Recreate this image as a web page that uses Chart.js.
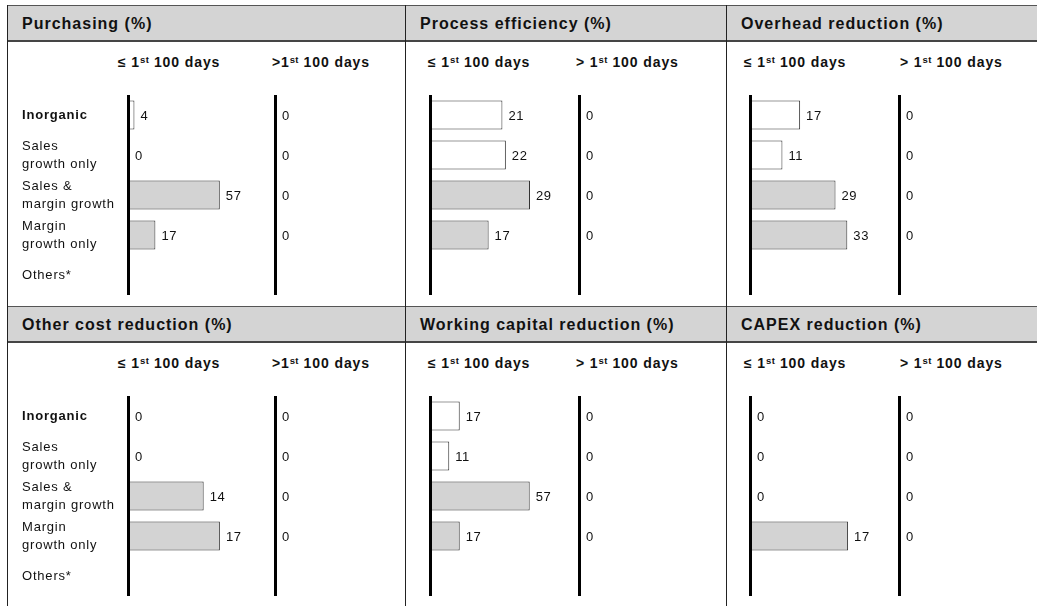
<!DOCTYPE html>
<html>
<head>
<meta charset="utf-8">
<script src="https://cdn.jsdelivr.net/npm/chart.js@4.4.1/dist/chart.umd.min.js"></script>
<style>
  html, body { margin: 0; padding: 0; background: #fff; overflow: hidden; }
  body { width: 1037px; height: 606px; position: relative; font-family: "Liberation Sans", Arial, sans-serif; color: #111; }
  #board { position: absolute; left: 0; top: 0; width: 1037px; height: 606px; }
  #board canvas { position: absolute; }
  .head { position: absolute; left: 7px; width: 1100px; height: 34px; background: #d4d4d4;
          border-top: 1px solid #555; border-bottom: 2px solid #454545; }
  .title { position: absolute; height: 34px; line-height: 34px; font-size: 16px; font-weight: bold; letter-spacing: 1px; white-space: nowrap; }
  .sub { position: absolute; height: 16px; line-height: 16px; font-size: 14px; font-weight: bold; letter-spacing: 0.9px; white-space: nowrap; }
  .sub sup { font-size: 9.5px; line-height: 0; vertical-align: 4px; letter-spacing: 0.3px; }
  .vline { position: absolute; width: 1px; background: #222; top: 5px; height: 601px; }
</style>
</head>
<body>
<div id="board"></div>
<script>
// categories on the vertical axis
var CATEGORIES = ["Inorganic", ["Sales", "growth only"], ["Sales &", "margin growth"], ["Margin", "growth only"], "Others*"];

var PANEL_TITLES = ["Purchasing (%)", "Process efficiency (%)", "Overhead reduction (%)",
                    "Other cost reduction (%)", "Working capital reduction (%)", "CAPEX reduction (%)"];
var EARLY_HEADS = ["\u2264 1", "\u2264 1", "\u2264 1", "\u2264 1", "\u2264 1", "\u2264 1"];
var LATE_HEADS = [">1", "> 1", "> 1", ">1", "> 1", "> 1"];

// <= 1st 100 days (Others* has no value)
var PURCHASING = [4, 0, 57, 17, null];
var PROCESS_EFFICIENCY = [21, 22, 29, 17, null];
var OVERHEAD_REDUCTION = [17, 11, 29, 33, null];
var OTHER_COST_REDUCTION = [0, 0, 14, 17, null];
var WORKING_CAPITAL_REDUCTION = [17, 11, 57, 17, null];
var CAPEX_REDUCTION = [0, 0, 0, 17, null];

// > 1st 100 days
var PURCHASING_LATE = [0, 0, 0, 0, null];
var PROCESS_EFFICIENCY_LATE = [0, 0, 0, 0, null];
var OVERHEAD_REDUCTION_LATE = [0, 0, 0, 0, null];
var OTHER_COST_REDUCTION_LATE = [0, 0, 0, 0, null];
var WORKING_CAPITAL_REDUCTION_LATE = [0, 0, 0, 0, null];
var CAPEX_REDUCTION_LATE = [0, 0, 0, 0, null];

var EARLY_VALUES = [PURCHASING, PROCESS_EFFICIENCY, OVERHEAD_REDUCTION, OTHER_COST_REDUCTION, WORKING_CAPITAL_REDUCTION, CAPEX_REDUCTION];
var LATE_VALUES = [PURCHASING_LATE, PROCESS_EFFICIENCY_LATE, OVERHEAD_REDUCTION_LATE, OTHER_COST_REDUCTION_LATE, WORKING_CAPITAL_REDUCTION_LATE, CAPEX_REDUCTION_LATE];

// each panel has its own x scale (max of the axis)
var X_MAX = [74.5, 34.8, 40.7, 22.2, 68.6, 20.8];

/* LAYOUT */
var COL_LEFT = [7, 405, 726];
var ROW_TOP = [5, 306];
var EARLY_AXIS_X = [121, 25, 24];
var LATE_AXIS_X = [268, 174, 173];
var EARLY_HEAD_X = [111, 23, 18];
var LATE_HEAD_X = [265, 171, 174];
var PLOT_W = 120;
var FONT = '"Liberation Sans", Arial, sans-serif';
var BAR_FILLS = ["#ffffff", "#ffffff", "#d3d3d3", "#d3d3d3", "#d3d3d3"];

var board = document.getElementById("board");

// numbers at the end of the bars
var valueLabels = {
  id: "valueLabels",
  afterDatasetsDraw: function(chart) {
    var ctx = chart.ctx;
    var data = chart.data.datasets[0].data;
    ctx.save();
    ctx.font = "13px " + FONT;
    ctx.letterSpacing = "0.6px";
    ctx.fillStyle = "#111";
    ctx.textBaseline = "middle";
    ctx.textAlign = "left";
    chart.getDatasetMeta(0).data.forEach(function(bar, i) {
      if (data[i] === null) return;
      ctx.fillText(String(data[i]), bar.x + (data[i] === 0 ? 7 : 6), bar.y + 1);
    });
    ctx.restore();
  }
};

var wideText = {
  id: "wideText",
  beforeDraw: function(chart) { chart.ctx.letterSpacing = "0.8px"; }
};

function makeChart(left, y, axisWidth, values, max, showLabels) {
  var canvas = document.createElement("canvas");
  canvas.width = axisWidth + PLOT_W + 34;
  canvas.height = 200;
  canvas.style.left = left + "px";
  canvas.style.top = y + "px";
  board.appendChild(canvas);
  return new Chart(canvas.getContext("2d"), {
    type: "bar",
    data: {
      labels: CATEGORIES,
      datasets: [{
        data: values,
        backgroundColor: BAR_FILLS,
        borderColor: "#333",
        borderWidth: 1,
        borderSkipped: false,
        categoryPercentage: 1,
        barPercentage: 0.72
      }]
    },
    options: {
      indexAxis: "y",
      responsive: false,
      animation: false,
      events: [],
      layout: { padding: { left: 0, right: 34, top: 0, bottom: 0 } },
      plugins: { legend: { display: false }, tooltip: { enabled: false } },
      scales: {
        x: { display: false, min: 0, max: max },
        y: {
          border: { display: true, color: "#000", width: 3, z: 1 },
          grid: { display: false },
          ticks: {
            display: showLabels,
            crossAlign: "far",
            padding: 0,
            color: "#111",
            font: function(c) {
              return { family: FONT, size: 13, weight: c.index === 0 ? "bold" : "normal", lineHeight: 1.38 };
            }
          },
          afterFit: function(s) {
            s.width = axisWidth;
            s.paddingTop = 0;
            s.paddingBottom = 0;
          }
        }
      }
    },
    plugins: [wideText, valueLabels]
  });
}

function addDiv(cls, left, y, html) {
  var d = document.createElement("div");
  d.className = cls;
  d.style.left = left + "px";
  d.style.top = y + "px";
  if (html) d.innerHTML = html;
  board.appendChild(d);
  return d;
}

// header bands
ROW_TOP.forEach(function(t) { addDiv("head", 7, t); });

for (var p = 0; p < 6; p++) {
  var col = p % 3;
  var rowY = ROW_TOP[Math.floor(p / 3)];
  var x0 = COL_LEFT[col];

  addDiv("title", x0 + 15, rowY + 2, PANEL_TITLES[p]);
  addDiv("sub", x0 + EARLY_HEAD_X[col], rowY + 49, EARLY_HEADS[p] + "<sup>st</sup> 100 days");
  addDiv("sub", x0 + LATE_HEAD_X[col], rowY + 49, LATE_HEADS[p] + "<sup>st</sup> 100 days");

  if (col === 0) {
    makeChart(x0 + 15, rowY + 90, EARLY_AXIS_X[col] - 15, EARLY_VALUES[p], X_MAX[p], true);
  } else {
    makeChart(x0 + EARLY_AXIS_X[col] - 4, rowY + 90, 4, EARLY_VALUES[p], X_MAX[p], false);
  }
  makeChart(x0 + LATE_AXIS_X[col] - 4, rowY + 90, 4, LATE_VALUES[p], 100, false);
}

// panel borders
COL_LEFT.forEach(function(x) { addDiv("vline", x, 5); });
</script>
</body>
</html>
